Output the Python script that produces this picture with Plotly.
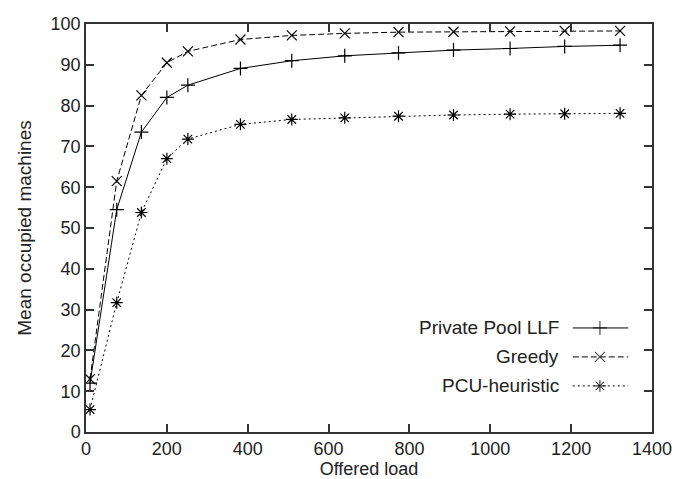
import plotly.graph_objects as go

load = [10, 76, 137, 200, 252, 382, 509, 640, 773, 909, 1049, 1184, 1321]
private_pool = [12.0, 54.5, 73.5, 82.0, 85.0, 89.1, 91.0, 92.2, 92.9, 93.6, 94.0, 94.5, 94.8]
greedy = [13.0, 61.5, 82.5, 90.5, 93.3, 96.2, 97.2, 97.7, 98.0, 98.1, 98.2, 98.3, 98.3]
pcu = [5.5, 31.7, 53.8, 67.0, 71.8, 75.4, 76.6, 77.0, 77.4, 77.7, 77.9, 78.0, 78.1]

names = ["Private Pool LLF", "Greedy", "PCU-heuristic"]
series = [private_pool, greedy, pcu]
symbols = ["cross-thin-open", "x-thin-open", "asterisk-open"]
dash_styles = ["solid", "6px,3px", "2px,3px"]

FONT = "Liberation Sans, Arial, Helvetica"

fig = go.Figure()
for name, ys, dsh, sym in zip(names, series, dash_styles, symbols):
    fig.add_trace(go.Scatter(
        x=load, y=ys, mode="lines+markers", name=name,
        line=dict(color="black", width=1, dash=dsh),
        marker=dict(symbol=sym, size=10, color="black", line=dict(color="black", width=1.2)),
        showlegend=False,
    ))

# custom legend (text left of sample, gnuplot style)
leg_y = [0.255, 0.184, 0.113]
for name, dsh, sym, ly in zip(names, dash_styles, symbols, leg_y):
    fig.add_trace(go.Scatter(
        x=[0.86, 0.908, 0.958], y=[ly, ly, ly], mode="lines+markers",
        xaxis="x2", yaxis="y2", showlegend=False, hoverinfo="skip",
        line=dict(color="black", width=1, dash=dsh),
        marker=dict(symbol=sym, size=[0, 10, 0], color="black", line=dict(color="black", width=1.2)),
    ))
    fig.add_annotation(x=0.84, y=ly, xref="x2", yref="y2", text=name, showarrow=False,
                       xanchor="right", yanchor="middle",
                       font=dict(family=FONT, size=19, color="#222"))

axis_common = dict(
    showgrid=False, zeroline=False, showline=True, linecolor="#333", linewidth=1.5,
    mirror="allticks", ticks="inside", ticklen=8, tickwidth=1.5, tickcolor="#333",
    tickfont=dict(family=FONT, size=18, color="#222"), automargin=False,
)

fig.update_layout(
    width=686, height=479,
    margin=dict(l=78, r=42, t=16, b=55),
    plot_bgcolor="white", paper_bgcolor="white",
    xaxis=dict(range=[0, 1400], dtick=200, ticklabelstandoff=0,
               title=dict(text="Offered load", standoff=0,
                          font=dict(family=FONT, size=18, color="#222")), **axis_common),
    yaxis=dict(range=[0, 100], dtick=10,
               title=dict(text="Mean occupied machines", standoff=14,
                          font=dict(family=FONT, size=19, color="#222")), **axis_common),
    xaxis2=dict(range=[0, 1], overlaying="x", visible=False),
    yaxis2=dict(range=[0, 1], overlaying="y", visible=False),
)

fig.write_html("out.html")
